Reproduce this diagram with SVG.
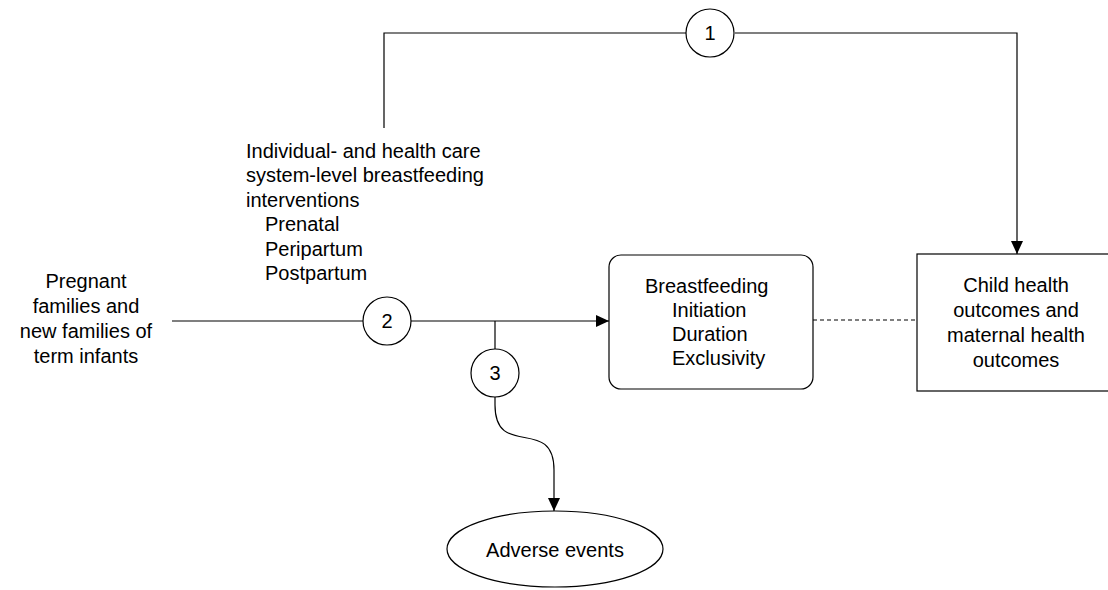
<svg xmlns="http://www.w3.org/2000/svg" width="1108" height="590" viewBox="0 0 1108 590">
<style>
text{font-family:"Liberation Sans",Arial,sans-serif;font-size:20px;fill:#000}
.c{text-anchor:middle}
.ln{fill:none;stroke:#000;stroke-width:1.2}
.shape{fill:#fff;stroke:#000;stroke-width:1.2}
</style>
<defs>
<marker id="arr" markerUnits="userSpaceOnUse" markerWidth="14" markerHeight="12" refX="13" refY="6" orient="auto">
<path d="M0,0 L13,6 L0,12 z" fill="#000"/>
</marker>
</defs>
<g id="connectors">
<path class="ln" d="M384,128 V33 H686"/>
<path class="ln" d="M735,33 H1017 V254" marker-end="url(#arr)"/>
<path class="ln" d="M172,321 H363"/>
<path class="ln" d="M411,321 H609" marker-end="url(#arr)"/>
<path class="ln" d="M495,321 V349"/>
<path class="ln" d="M495,397 V405 C495,460 554,415 554,470 V511" marker-end="url(#arr)"/>
<path class="ln" d="M813,320 H917" stroke-dasharray="4,3"/>
</g>
<g id="population">
<text class="c" x="86" y="288">Pregnant</text>
<text class="c" x="86" y="313">families and</text>
<text class="c" x="86" y="338">new families of</text>
<text class="c" x="86" y="363">term infants</text>
</g>
<g id="interventions">
<text x="246" y="158">Individual- and health care</text>
<text x="246" y="182">system-level breastfeeding</text>
<text x="246" y="207">interventions</text>
<text x="265" y="231">Prenatal</text>
<text x="265" y="256">Peripartum</text>
<text x="265" y="280">Postpartum</text>
</g>
<g id="kq1">
<circle class="shape" cx="710" cy="33" r="24"/>
<text class="c" x="710" y="40">1</text>
</g>
<g id="kq2">
<circle class="shape" cx="387" cy="321" r="24"/>
<text class="c" x="387" y="328">2</text>
</g>
<g id="kq3">
<circle class="shape" cx="495" cy="373" r="24"/>
<text class="c" x="495" y="380">3</text>
</g>
<g id="breastfeeding">
<rect class="shape" x="609" y="255" width="204" height="134" rx="12"/>
<text x="645" y="293">Breastfeeding</text>
<text x="672" y="317">Initiation</text>
<text x="672" y="341">Duration</text>
<text x="672" y="365">Exclusivity</text>
</g>
<g id="outcomes">
<rect class="shape" x="917" y="254" width="198" height="137"/>
<text class="c" x="1016" y="292">Child health</text>
<text class="c" x="1016" y="317">outcomes and</text>
<text class="c" x="1016" y="342">maternal health</text>
<text class="c" x="1016" y="367">outcomes</text>
</g>
<g id="adverse">
<ellipse class="shape" cx="555" cy="549" rx="108" ry="38"/>
<text class="c" x="555" y="557">Adverse events</text>
</g>
</svg>
